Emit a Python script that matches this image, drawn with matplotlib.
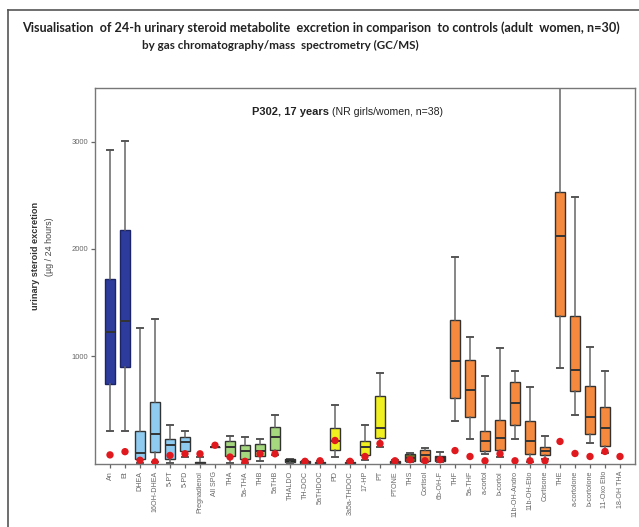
import matplotlib
matplotlib.use("Agg")
import matplotlib.pyplot as plt
from matplotlib.lines import Line2D
import numpy as np

categories = ["An", "Et", "DHEA", "16OH-DHEA", "5-PT", "5-PD", "Pregnadienol", "All SPG",
              "THA", "5a-THA", "THB", "5aTHB", "THALDO", "TH-DOC", "5aTHDOC", "PD",
              "3a5a-THDOC", "17-HP", "PT", "PTONE", "THS", "Cortisol", "6b-OH-F", "THF",
              "5a-THF", "a-cortol", "b-cortol", "11b-OH-Andro", "11b-OH-Etio", "Cortisone",
              "THE", "a-cortolone", "b-cortolone", "11-Oxo Etio", "18-OH THA"]

whisker_low = [298, 298, 0, 10, 0, 60, 0, 150, 0, 0, 20, 80, 5, 0, 0, 60,
               0, 30, 150, 0, 10, 10, 10, 400, 232, 90, 60, 232, 10, 40,
               893, 456, 195, 100, np.nan]
q1 = [744, 902, 40, 110, 45, 120, 0, 150, 65, 45, 65, 130, 10, 0, 0, 130,
      0, 75, 242, 5, 20, 25, 20, 614, 437, 112, 130, 363, 84, 75,
      1377, 679, 279, 167, np.nan]
median = [1228, 1330, 100, 279, 170, 200, 8, 150, 150, 120, 120, 250, 30, 10, 8, 214,
          8, 158, 335, 15, 50, 75, 40, 958, 688, 205, 242, 567, 205, 112,
          2121, 874, 437, 335, np.nan]
q3 = [1720, 2180, 300, 577, 232, 250, 15, 150, 205, 170, 186, 344, 40, 20, 15, 335,
      15, 205, 633, 25, 90, 130, 65, 1340, 967, 298, 409, 763, 400, 158,
      2530, 1370, 726, 530, np.nan]
whisker_high = [2920, 3010, 1260, 1350, 355, 300, 60, 150, 260, 250, 232, 456, 45, 25, 20, 549,
                20, 363, 847, 30, 100, 140, 110, 1920, 1180, 819, 1080, 865, 716, 260,
                3700, 2480, 1088, 865, np.nan]
patient = [80, 110, 30, 15, 75, 90, 90, 170, 60, 20, 90, 90, np.nan, 20, 25, 214,
           20, 65, 186, 25, 35, 25, 35, 120, 65, 25, 90, 25, 25, 25,
           205, 93, 65, 112, 65]

DB, LB, GR, DK, YE, OR = "#2d3c9c", "#8fcbf0", "#a5d77f", "#1e2a1e", "#f0ef1f", "#f5893e"
box_colors = [DB, DB, LB, LB, LB, LB, LB, LB, GR, GR, GR, GR, DK, DK, DK, YE,
              DK, YE, YE, DK, "#6b6b2a", OR, "#3a1f1f", OR, OR, OR, OR, OR, OR, OR,
              OR, OR, OR, OR, OR]

fig = plt.figure(figsize=(6.39, 5.27), dpi=100)
W, H = 639, 527
ax = fig.add_axes([95 / W, 63 / H, 540 / W, 376 / H])

positions = np.arange(1, len(categories) + 1)
stats = []
pos_used = []
cols_used = []
for i, c in enumerate(categories):
    if np.isnan(median[i]):
        continue
    stats.append(dict(whislo=whisker_low[i], q1=q1[i], med=median[i], q3=q3[i],
                      whishi=whisker_high[i], fliers=[], label=c))
    pos_used.append(positions[i])
    cols_used.append(box_colors[i])

bp = ax.bxp(stats, positions=pos_used, widths=0.62, capwidths=0.38, patch_artist=True,
            showfliers=False,
            boxprops=dict(edgecolor="#333333", linewidth=1.0),
            medianprops=dict(color="#333333", linewidth=1.4),
            whiskerprops=dict(color="#666666", linewidth=1.1),
            capprops=dict(color="#555555", linewidth=1.4))
for patch, col in zip(bp["boxes"], cols_used):
    patch.set_facecolor(col)
    if col == DB:
        patch.set_edgecolor("#1c2468")

ax.scatter(positions, patient, s=28, color="#e0191e", zorder=5, edgecolors="none")

ax.set_xlim(0, 36)
ax.set_ylim(-5, 3500)
ax.set_yticks([1000, 2000, 3000])
ax.set_yticklabels(["1000", "2000", "3000"], fontsize=5.5, color="#555555",
                   family="Liberation Sans")
ax.set_xticks(positions)
ax.set_xticklabels(categories, rotation=90, fontsize=5.1, color="#555555",
                   family="Liberation Sans")
ax.tick_params(axis="both", length=3, width=0.9, colors="#666666", pad=2)
for s in ax.spines.values():
    s.set_color("#777777")
    s.set_linewidth(1.0)

t1 = ax.text((252 - 95) / 540, 0.935, "P302, 17 years", transform=ax.transAxes,
             fontsize=8, fontweight="bold", family="Liberation Sans", color="#222222",
             ha="left", va="center")
ax.annotate("(NR girls/women, n=38)", xy=(1, 0.5), xycoords=t1, xytext=(2.5, 0),
            textcoords="offset points", fontsize=7.6, family="Liberation Sans",
            color="#222222", ha="left", va="center")

fig.text(36 / W, 1 - 256 / H, "urinary steroid excretion", rotation=90, fontsize=6.6,
         fontweight="bold", family="Liberation Sans", color="#333333", ha="center", va="center")
fig.text(50 / W, 1 - 247 / H, "(µg / 24 hours)", rotation=90, fontsize=6.4,
         family="Liberation Sans", color="#444444", ha="center", va="center")

fig.text(22 / W, 1 - 28 / H,
         "Visualisation  of 24-h urinary steroid metabolite  excretion in comparison  to controls (adult  women, n=30)",
         fontsize=9.1, fontweight="bold", family="Lato", color="#222222", ha="left", va="center")
fig.text(280 / W, 1 - 45 / H, "by gas chromatography/mass  spectrometry (GC/MS)",
         fontsize=8.4, fontweight="bold", family="Lato", color="#222222", ha="center", va="center")

fig.add_artist(Line2D([8 / W, 8 / W], [0, 1 - 10 / H], transform=fig.transFigure,
                      color="#555555", linewidth=1.2))
fig.add_artist(Line2D([8 / W, 1], [1 - 10 / H, 1 - 10 / H], transform=fig.transFigure,
                      color="#555555", linewidth=1.2))

fig.savefig("out.png", dpi=100)
